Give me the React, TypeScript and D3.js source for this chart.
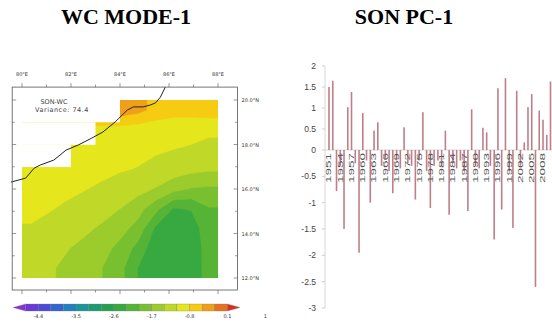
import React from 'react';
import * as d3 from 'd3';

const TITLE_LEFT = 'WC MODE-1';
const TITLE_RIGHT = 'SON PC-1';

// ---- map data ----
const lonTicks = [80, 82, 84, 86, 88];
const lonMinorTicks = [80, 81, 82, 83, 84, 85, 86, 87, 88];
const latTicks = [20, 18, 16, 14, 12];
const latMinorTicks = [12, 13, 14, 15, 16, 17, 18, 19, 20];

// field values, rows north -> south, columns west -> east
const fieldRow0 = [-0.7, -0.65, -0.6, -0.55, -0.4, -0.3, -0.4, -0.6, -0.66, -0.66, -0.62];
const fieldRow1 = [-0.85, -0.85, -0.86, -0.88, -0.9, -0.92, -0.95, -0.98, -1.02, -1.04, -1.06];
const fieldRow2 = [-0.88, -0.9, -0.92, -0.95, -0.98, -1.01, -1.04, -1.07, -1.1, -1.12, -1.16];
const fieldRow3 = [-0.92, -0.94, -0.97, -1.0, -1.04, -1.08, -1.11, -1.17, -1.24, -1.32, -1.36];
const fieldRow4 = [-0.98, -1.0, -1.04, -1.09, -1.14, -1.2, -1.3, -1.42, -1.6, -1.72, -1.75];
const fieldRow5 = [-1.04, -1.08, -1.14, -1.2, -1.28, -1.4, -1.58, -1.9, -2.32, -2.28, -2.02];
const fieldRow6 = [-1.12, -1.18, -1.26, -1.34, -1.45, -1.6, -1.8, -2.35, -2.5, -2.45, -2.12];
const fieldRow7 = [-1.2, -1.28, -1.38, -1.48, -1.6, -1.78, -2.1, -2.5, -2.55, -2.5, -2.15];
const fieldRow8 = [-1.28, -1.36, -1.46, -1.58, -1.7, -1.9, -2.3, -2.55, -2.58, -2.52, -2.15];
const fieldRows = [fieldRow0, fieldRow1, fieldRow2, fieldRow3, fieldRow4, fieldRow5, fieldRow6, fieldRow7, fieldRow8];
// number of masked 1-degree cells from the west, per 1-degree latitude band (north -> south)
const maskedCells = [4, 3, 2, 0, 0, 0, 0, 0];

const coastLon = [79.55, 80.15, 80.5, 80.75, 81.3, 81.8, 82.3, 82.85, 83.3, 83.8, 84.3, 84.55, 84.95, 85.25, 85.45, 85.65, 85.85];
const coastLat = [16.31, 16.49, 16.94, 17.08, 17.3, 17.75, 17.98, 18.29, 18.56, 19.01, 19.55, 19.69, 19.69, 19.78, 19.87, 20.13, 20.58];

const mapNote1 = 'SON-WC';
const mapNote2 = 'Variance: 74.4';

const cbLevels = [-4.7, -4.4, -4.1, -3.8, -3.5, -3.2, -2.9, -2.6, -2.3, -2.0, -1.7, -1.4, -1.1, -0.8, -0.5, -0.2, 0.1];
const cbColors = ['#8c30d8', '#6a3ad8', '#4a4ad8', '#3066d0', '#2080c0', '#1a9698', '#1c9a72', '#24a050', '#38a840', '#55b436', '#78c030', '#9ccc2c', '#c0d828', '#e6e61c', '#f5cc12', '#f0a018', '#e8701e', '#d83020'];
const cbLabels = ['-4.4', '-3.5', '-2.6', '-1.7', '-0.8', '0.1', '1'];
const cbLabelValues = [-4.4, -3.5, -2.6, -1.7, -0.8, 0.1, 1.0];

// ---- PC time series ----
const pcYears = d3.range(1951, 2011);
const pcValues = [
  1.5, 1.65, -0.78, -0.3, -1.5, 1.02, 1.38, -0.25, -1.95, 0.88,
  -0.2, -1.0, 0.46, 0.66, -0.3, -0.15, -0.4, -0.82, -0.2, -0.35,
  0.54, -0.25, -0.3, -0.94, -0.2, 0.9, -0.4, -1.1, -0.3, -0.2,
  -0.3, 0.46, -1.23, -0.25, -0.35, -0.2, -0.4, -1.16, 0.97, -0.3,
  -0.35, 0.53, 0.42, -0.3, -1.7, 1.47, -1.13, 1.71, -0.4, -1.48,
  1.41, -0.3, 0.18, 1.02, 1.33, -2.6, 0.94, 0.72, 0.36, 1.63,
];
const pcTicks = [2, 1.5, 1, 0.5, 0, -0.5, -1, -1.5, -2, -2.5, -3];
const pcLabelYears = d3.range(1951, 2011, 3);

export default function App() {
  const lonScale = d3.scaleLinear().domain([80, 88]).range([22, 218]);
  const latScale = d3.scaleLinear().domain([20, 12]).range([100, 278]);
  const frameX0 = lonScale(79.6), frameX1 = lonScale(88.8);
  const frameY0 = latScale(20.58), frameY1 = latScale(11.46);

  // pad the grid by repeating its edge values so contours reach the rectangle edges
  const ny = fieldRows.length, nx = fieldRows[0].length;
  const padded: number[][] = [];
  for (let r = -1; r <= ny; r++) {
    const src = fieldRows[Math.max(0, Math.min(ny - 1, r))];
    padded.push([src[0], ...src, src[nx - 1]]);
  }
  const flat = padded.flat();
  const gx = d3.scaleLinear().domain([1, nx + 1]).range([lonScale(80), lonScale(88)]);
  const gy = d3.scaleLinear().domain([1, ny + 1]).range([latScale(20), latScale(12)]);
  const contours = d3.contours().size([nx + 2, ny + 2]).thresholds(cbLevels)(flat);
  const proj = d3.geoTransform({
    point(x: number, y: number) {
      (this as any).stream.point(gx(x), gy(y));
    },
  });
  const path = d3.geoPath(proj as any);

  const coastLine = d3.line<number>().x((_, i) => lonScale(coastLon[i])).y((_, i) => latScale(coastLat[i]));

  const cbX = d3.scaleLinear().domain([0, cbColors.length]).range([13, 240]);
  const cbValX = d3.scaleLinear().domain([cbLevels[0], cbLevels[cbLevels.length - 1]]).range([cbX(1), cbX(cbLevels.length)]);
  const cbY0 = 304, cbY1 = 311;

  const xPC = d3.scaleLinear().domain([1951, 2010]).range([329, 550.5]);
  const yPC = d3.scaleLinear().domain([-3, 0, 2]).range([308, 150, 66]);

  const mapFont = 'DejaVu Sans, sans-serif';

  return (
    <svg width={552} height={322} style={{ position: 'absolute', left: 0, top: 0, background: '#fff' }}>
      <defs>
        <clipPath id="fieldClip">
          <rect x={lonScale(80)} y={latScale(20)} width={lonScale(88) - lonScale(80)} height={latScale(12) - latScale(20)} />
        </clipPath>
      </defs>
      <text x={126} y={24} textAnchor="middle" fontFamily="Liberation Serif, serif" fontWeight="bold" fontSize={22}>{TITLE_LEFT}</text>
      <text x={404} y={24} textAnchor="middle" fontFamily="Liberation Serif, serif" fontWeight="bold" fontSize={22}>{TITLE_RIGHT}</text>

      {/* map field */}
      <g>
        <g clipPath="url(#fieldClip)">
          {contours.map((c, k) => (
            <path key={k} d={path(c as any) || ''} fill={cbColors[k + 1]} stroke={cbColors[k + 1]} strokeWidth={0.4} />
          ))}
        </g>
        {maskedCells.map((n, r) => n > 0 ? (
          <rect key={r} x={lonScale(79.7)} y={latScale(20 - r) - (r === 0 ? 1 : 0)} width={lonScale(80 + n) - lonScale(79.7)} height={latScale(19 - r) - latScale(20 - r) + (r === 0 ? 1 : 0.3)} fill="#fff" />
        ) : null)}
        <path d={coastLine(coastLon) || ''} fill="none" stroke="#222" strokeWidth={1} />
        <rect x={frameX0} y={frameY0} width={frameX1 - frameX0} height={frameY1 - frameY0} fill="none" stroke="#555" strokeWidth={0.8} />
        {lonMinorTicks.map((l) => (
          <g key={l}>
            <line x1={lonScale(l)} x2={lonScale(l)} y1={frameY0} y2={frameY0 - (lonTicks.includes(l) ? 4 : 2.5)} stroke="#555" strokeWidth={0.6} />
            <line x1={lonScale(l)} x2={lonScale(l)} y1={frameY1} y2={frameY1 + (lonTicks.includes(l) ? 4 : 2.5)} stroke="#555" strokeWidth={0.6} />
          </g>
        ))}
        {latMinorTicks.map((l) => (
          <g key={l}>
            <line x1={frameX0} x2={frameX0 + (latTicks.includes(l) ? 4 : 2.5)} y1={latScale(l)} y2={latScale(l)} stroke="#555" strokeWidth={0.6} />
            <line x1={frameX1} x2={frameX1 - (latTicks.includes(l) ? 4 : 2.5)} y1={latScale(l)} y2={latScale(l)} stroke="#555" strokeWidth={0.6} />
          </g>
        ))}
        {lonTicks.map((l) => (
          <text key={l} x={lonScale(l)} y={76} textAnchor="middle" fontFamily={mapFont} fontSize={5} fill="#333">{`${l}°E`}</text>
        ))}
        {latTicks.map((l) => (
          <text key={l} x={frameX1 + 4} y={latScale(l) + 2} fontFamily={mapFont} fontSize={5} fill="#333">{`${l.toFixed(1)}°N`}</text>
        ))}
        <text x={54} y={104} textAnchor="middle" fontFamily={mapFont} fontSize={6.5} fill="#444">{mapNote1}</text>
        <text x={62} y={111.5} textAnchor="middle" fontFamily={mapFont} fontSize={6.5} letterSpacing={0.5} fill="#444">{mapNote2}</text>
      </g>

      {/* colorbar */}
      <g>
        {cbColors.map((c, k) => {
          const x0 = cbX(k), x1 = cbX(k + 1);
          if (k === 0) return <path key={k} d={`M${x0},${(cbY0 + cbY1) / 2}L${x1},${cbY0}L${x1},${cbY1}Z`} fill={c} stroke="#777" strokeWidth={0.3} />;
          if (k === cbColors.length - 1) return <path key={k} d={`M${x0},${cbY0}L${x1},${(cbY0 + cbY1) / 2}L${x0},${cbY1}Z`} fill={c} stroke="#777" strokeWidth={0.3} />;
          return <rect key={k} x={x0} y={cbY0} width={x1 - x0} height={cbY1 - cbY0} fill={c} stroke="#777" strokeWidth={0.3} />;
        })}
        {cbLabels.map((t, i) => (
          <text key={t} x={cbValX(cbLabelValues[i])} y={318} textAnchor="middle" fontFamily={mapFont} fontSize={5} fill="#333">{t}</text>
        ))}
      </g>

      {/* PC bar chart */}
      <g>
        <line x1={325} x2={325} y1={yPC(2)} y2={yPC(-3)} stroke="#d8d8d8" strokeWidth={1} />
        <line x1={325} x2={552} y1={yPC(0)} y2={yPC(0)} stroke="#d8d8d8" strokeWidth={1} />
        {pcTicks.map((t) => (
          <g key={t}>
            <line x1={322} x2={325} y1={yPC(t)} y2={yPC(t)} stroke="#ccc" strokeWidth={1} />
            <text x={316} y={yPC(t)} dy="0.35em" textAnchor="end" fontFamily="Liberation Sans, Arial, sans-serif" fontSize={8.5} fill="#444">{t}</text>
          </g>
        ))}
        {pcValues.map((v, i) => (
          <rect key={i} x={xPC(pcYears[i]) - 0.8} y={Math.min(yPC(v), yPC(0))} width={1.6} height={Math.abs(yPC(v) - yPC(0))} fill="#bf7f89" />
        ))}
        {pcLabelYears.map((yr) => (
          <text key={yr} transform={`translate(${xPC(yr) + 2.4},153) rotate(-90)`} textAnchor="end" fontFamily="Liberation Sans, Arial, sans-serif" fontSize={7} textLength={30} lengthAdjust="spacingAndGlyphs" fill="#555">{yr}</text>
        ))}
      </g>
    </svg>
  );
}
